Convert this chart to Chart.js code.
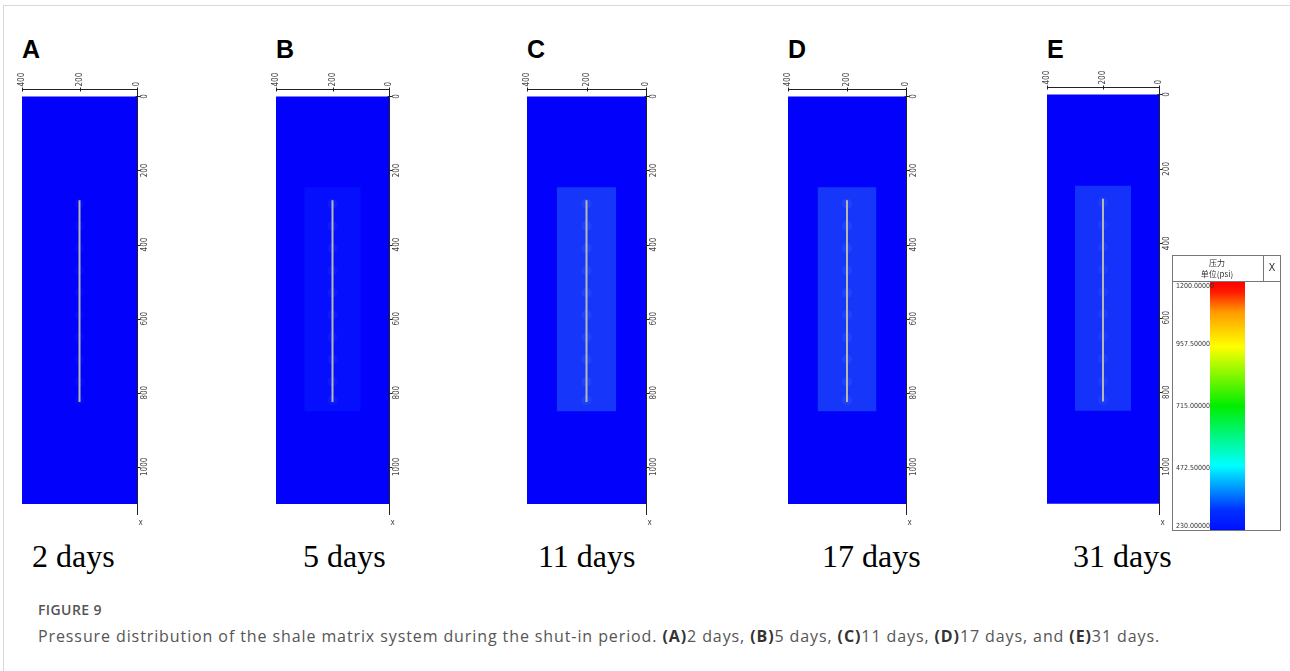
<!DOCTYPE html>
<html>
<head>
<meta charset="utf-8">
<script src="https://cdn.jsdelivr.net/npm/chart.js@4/dist/chart.umd.min.js"></script>
<style>
  body { margin: 0; background: #fff; width: 1290px; height: 671px; overflow: hidden; position: relative; }
  .frame { position: absolute; left: 3px; top: 5px; width: 1300px; height: 700px; border-left: 1px solid #d8d8d8; border-top: 1px solid #d8d8d8; }
  canvas { position: absolute; }
  .letter { position: absolute; top: 37px; font: bold 25px "Liberation Sans", Arial, sans-serif; color: #000; line-height: 1; }
  .days { position: absolute; top: 540px; font: 32px "Liberation Serif", "Times New Roman", serif; color: #000; line-height: 1; white-space: nowrap; }
  .fig { position: absolute; left: 38px; top: 600px; font: 600 14px "Open Sans", sans-serif; color: #555; letter-spacing: 0.4px; }
  .cap { position: absolute; left: 38px; top: 625px; font: 16px "Open Sans", sans-serif; color: #555; white-space: nowrap; letter-spacing: 0.9px; }
  .cap b { color: #333; }
</style>
</head>
<body>
<div class="frame"></div>
<div class="fig">FIGURE 9</div>
<div class="cap">Pressure distribution of the shale matrix system during the shut-in period. <b>(A)</b>2 days, <b>(B)</b>5 days, <b>(C)</b>11 days, <b>(D)</b>17 days, and <b>(E)</b>31 days.</div>
<script>
// panel data
const panelLetters = ['A', 'B', 'C', 'D', 'E'];
const dayLabels = ['2 days', '5 days', '11 days', '17 days', '31 days'];
const xTicks = [400, 200, 0];
const yTicks = [0, 200, 400, 600, 800, 1000];
const matrixX = [0, 400];
const matrixY = [0, 1100];
const zoneX = [100, 300];
const zoneY = [245, 850];
const fractureX = 200;
const fractureY = [280, 825];
const clusterY = [290, 350, 410, 470, 530, 590, 650, 710, 770, 820];
const hasZone = [false, true, true, true, true];

// colour bar data
const pressureRange = [230, 1200];
const pressureTicks = [1200, 957.5, 715, 472.5, 230];

// layout / styles (not data)
const panelBoxes = [
    { left: 22, right: 137, days: 32 },
    { left: 276, right: 389, days: 303 },
    { left: 527, right: 646, days: 538 },
    { left: 788, right: 906, days: 822 },
    { left: 1047, right: 1159, days: 1073 }
];
const zoneColors = ['rgba(0,0,0,0)', 'rgb(6,14,254)', 'rgb(22,54,250)', 'rgb(22,54,250)', 'rgb(20,50,250)'];
const clusterColors = ['rgba(80,130,255,0.06)', 'rgba(80,130,255,0.1)', 'rgba(90,140,255,0.14)', 'rgba(90,140,255,0.14)', 'rgba(90,140,255,0.12)'];
const PAD = 25, CTOP = 60, CH = 480;

const axisPlugin = {
    id: 'panelAxes',
    afterDraw(chart) {
        const { ctx } = chart;
        const xs = chart.scales.x, ys = chart.scales.y;
        const xr = Math.round(xs.getPixelForValue(0)) + 0.5;
        const xl = xs.getPixelForValue(400);
        const yt = Math.round(ys.top) + 0.5;
        ctx.save();
        ctx.strokeStyle = '#222';
        ctx.lineWidth = 1;
        ctx.beginPath();
        ctx.moveTo(xl, yt); ctx.lineTo(xr, yt);
        ctx.moveTo(xr, yt); ctx.lineTo(xr, ys.bottom);
        xTicks.forEach(v => {
            const px = Math.round(xs.getPixelForValue(v)) + 0.5;
            ctx.moveTo(px, yt - 2); ctx.lineTo(px, yt + 2);
        });
        yTicks.forEach(v => {
            const py = Math.round(ys.getPixelForValue(v)) + 0.5;
            ctx.moveTo(xr - 2, py); ctx.lineTo(xr + 3, py);
        });
        ctx.stroke();

        ctx.fillStyle = '#444';
        ctx.font = '8px "DejaVu Sans Condensed", "DejaVu Sans", sans-serif';
        xTicks.forEach(v => {
            ctx.save();
            ctx.translate(xs.getPixelForValue(v), yt - 3);
            ctx.rotate(-Math.PI / 2);
            ctx.textAlign = 'left';
            ctx.textBaseline = 'middle';
            ctx.fillText(String(v), 0, 0);
            ctx.restore();
        });
        yTicks.forEach(v => {
            ctx.save();
            ctx.translate(xr + 7, ys.getPixelForValue(v));
            ctx.rotate(-Math.PI / 2);
            ctx.textAlign = 'center';
            ctx.textBaseline = 'middle';
            ctx.fillText(String(v), 0, 0);
            ctx.restore();
        });
        ctx.fillText('x', xr + 1, ys.bottom + 10);
        ctx.restore();
    }
};

function rectDataset(xr, yr, color, order) {
    return {
        data: [{ x: xr[0], y: yr[0] }, { x: xr[1], y: yr[0] }],
        showLine: true,
        fill: { value: yr[1] },
        backgroundColor: color,
        borderWidth: 0,
        pointRadius: 0,
        order: order
    };
}

panelBoxes.forEach((box, i) => {
    const letter = document.createElement('div');
    letter.className = 'letter';
    letter.style.left = box.left + 'px';
    letter.textContent = panelLetters[i];
    document.body.appendChild(letter);

    const day = document.createElement('div');
    day.className = 'days';
    day.style.left = box.days + 'px';
    day.textContent = dayLabels[i];
    document.body.appendChild(day);

    const canvas = document.createElement('canvas');
    const w = box.right - box.left + PAD * 2;
    canvas.width = w;
    canvas.height = CH;
    canvas.style.left = (box.left - PAD) + 'px';
    canvas.style.top = CTOP + 'px';
    document.body.appendChild(canvas);

    const datasets = [
        rectDataset(matrixX, matrixY, 'rgb(2,2,252)', 4)
    ];
    if (hasZone[i]) datasets.push(rectDataset(zoneX, zoneY, zoneColors[i], 3));
    datasets.push({
        data: clusterY.map(y => ({ x: fractureX, y })),
        showLine: false,
        pointRadius: 5,
        pointBorderWidth: 0,
        backgroundColor: clusterColors[i],
        order: 2
    });
    datasets.push({
        data: fractureY.map(y => ({ x: fractureX, y })),
        showLine: true,
        borderColor: '#b4b9b0',
        borderWidth: 2,
        pointRadius: 0,
        order: 1
    });

    new Chart(canvas.getContext('2d'), {
        type: 'scatter',
        data: { datasets },
        options: {
            responsive: false,
            animation: false,
            layout: { padding: { left: PAD, right: PAD, top: (i === 4 ? 87 : 89) - CTOP, bottom: CH - (515 - CTOP) } },
            plugins: { legend: { display: false }, tooltip: { enabled: false } },
            scales: {
                x: { type: 'linear', min: 0, max: 400, reverse: true, display: false },
                y: { type: 'linear', min: -20, max: 1130, reverse: true, display: false }
            }
        },
        plugins: [axisPlugin]
    });
});

// colour bar legend
const legendPlugin = {
    id: 'legendBox',
    afterDraw(chart) {
        const { ctx } = chart;
        const ys = chart.scales.y;
        const W = chart.width, H = chart.height;
        ctx.save();
        ctx.strokeStyle = '#777';
        ctx.lineWidth = 1;
        ctx.strokeRect(0.5, 0.5, W - 1, H - 1);
        ctx.beginPath();
        ctx.moveTo(0, 26.5); ctx.lineTo(W, 26.5);
        ctx.moveTo(91.5, 0); ctx.lineTo(91.5, 26);
        ctx.stroke();
        ctx.fillStyle = '#333';
        ctx.textAlign = 'center';
        ctx.textBaseline = 'middle';
        ctx.font = '8px "Noto Sans CJK SC", sans-serif';
        ctx.fillText('压力', 45, 8);
        ctx.fillText('单位(psi)', 45, 19);
        ctx.font = '10px "DejaVu Sans", sans-serif';
        ctx.fillText('X', 100, 13);
        ctx.font = '7px "DejaVu Sans Condensed", "DejaVu Sans", sans-serif';
        ctx.textAlign = 'left';
        pressureTicks.forEach(v => {
            let py = ys.getPixelForValue(v);
            py = Math.min(Math.max(py, 31), H - 5);
            ctx.fillText(v.toFixed(5), 4, py);
        });
        ctx.restore();
    }
};

const lc = document.createElement('canvas');
lc.width = 109;
lc.height = 276;
lc.style.left = '1172px';
lc.style.top = '255px';
document.body.appendChild(lc);

new Chart(lc.getContext('2d'), {
    type: 'bar',
    data: {
        labels: ['p'],
        datasets: [{
            data: [pressureRange],
            borderWidth: 0,
            barPercentage: 1,
            categoryPercentage: 1,
            backgroundColor: (c) => {
                const ca = c.chart.chartArea;
                if (!ca) return '#00f';
                const g = c.chart.ctx.createLinearGradient(0, ca.bottom, 0, ca.top);
                g.addColorStop(0, '#0010ff');
                g.addColorStop(0.08, '#0030ff');
                g.addColorStop(0.26, '#00ffff');
                g.addColorStop(0.5, '#00ee00');
                g.addColorStop(0.74, '#ffff00');
                g.addColorStop(0.88, '#ff9900');
                g.addColorStop(0.96, '#ff1a00');
                g.addColorStop(1, '#ff0000');
                return g;
            }
        }]
    },
    options: {
        responsive: false,
        animation: false,
        layout: { padding: { left: 38, right: 36, top: 27, bottom: 1 } },
        plugins: { legend: { display: false }, tooltip: { enabled: false } },
        scales: {
            x: { display: false },
            y: { min: pressureRange[0], max: pressureRange[1], display: false }
        }
    },
    plugins: [legendPlugin]
});
</script>
</body>
</html>
